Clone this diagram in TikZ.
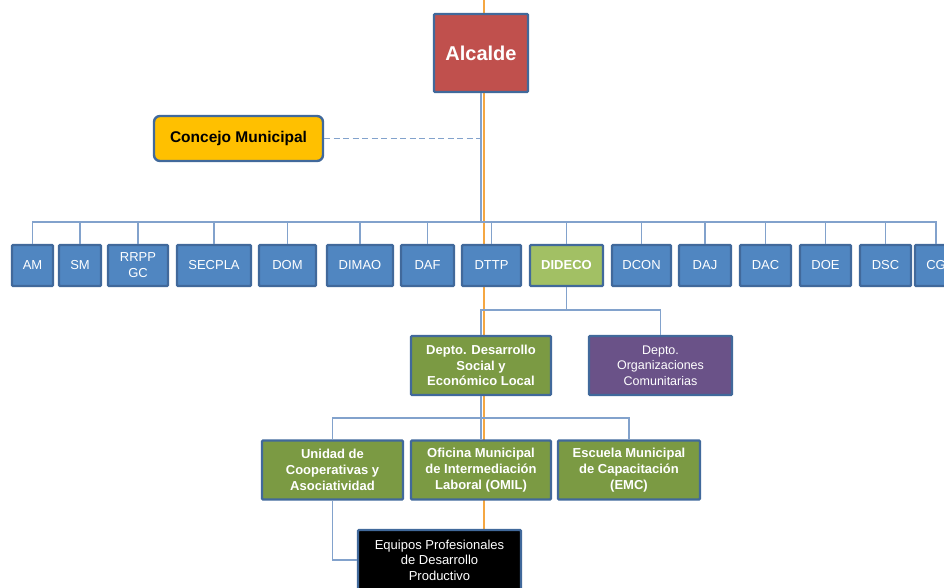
\documentclass[tikz,border=0pt]{standalone}
\usepackage{fontspec}
\setmainfont{Liberation Sans}
\definecolor{boxblue}{HTML}{5086C1}
\definecolor{boxline}{HTML}{41699B}
\definecolor{conline}{HTML}{82A2CC}
\definecolor{orangeline}{HTML}{F5A742}
\definecolor{alcred}{HTML}{C0504D}
\definecolor{conyellow}{HTML}{FFC000}
\definecolor{lightgreen}{HTML}{A2C064}
\definecolor{olive}{HTML}{7B9A43}
\definecolor{purplebox}{HTML}{6A5288}
\begin{document}
\begin{tikzpicture}[x=1pt,y=-1pt,
  box/.style={draw=boxline, line width=2.4pt, rounded corners=1pt, inner sep=0pt, align=center, text=white},
  rowbox/.style={box, fill=boxblue, minimum height=41pt, font=\fontsize{13}{16}\selectfont},
  subbox/.style={box, fill=olive, minimum width=140pt, minimum height=59pt, font=\fontsize{13}{15.7}\selectfont\bfseries},
  link/.style={draw=conline, line width=1.8pt}]
\useasboundingbox (0,0) rectangle (944,587);
\clip (0,0) rectangle (944,587);
% orange guide line (behind everything)
\coordinate (otop) at (484,0);
\coordinate (obot) at (484,587);
\draw[orangeline, line width=1.6pt] (otop) -- (obot);
% coordinates of buses
\coordinate (bus) at (481,222);
\coordinate (b2) at (566.5,310);
\coordinate (b3) at (481,418);
\node[box, fill=alcred, minimum width=94pt, minimum height=78pt, font=\fontsize{20}{24}\selectfont\bfseries] (alc) at (481,53) {Alcalde};
\node[box, fill=conyellow, text=black, rounded corners=6pt, minimum width=169pt, minimum height=45pt, font=\fontsize{15.5}{18}\selectfont\bfseries] (con) at (238.5,138.5) {Concejo Municipal};
\node[rowbox, minimum width=41pt] (am) at (32.5,265.5) {AM};
\node[rowbox, minimum width=42pt] (sm) at (80,265.5) {SM};
\node[rowbox, minimum width=60pt] (rrpp) at (138,265.5) {RRPP\\GC};
\node[rowbox, minimum width=74pt] (secpla) at (214,265.5) {SECPLA};
\node[rowbox, minimum width=57pt] (dom) at (287.5,265.5) {DOM};
\node[rowbox, minimum width=66pt] (dimao) at (360,265.5) {DIMAO};
\node[rowbox, minimum width=53pt] (daf) at (427.5,265.5) {DAF};
\node[rowbox, minimum width=59pt] (dttp) at (491.5,265.5) {DTTP};
\node[rowbox, fill=lightgreen, minimum width=73pt, font=\fontsize{13}{16}\selectfont\bfseries] (dideco) at (566.5,265.5) {DIDECO};
\node[rowbox, minimum width=59pt] (dcon) at (641.5,265.5) {DCON};
\node[rowbox, minimum width=52pt] (daj) at (705,265.5) {DAJ};
\node[rowbox, minimum width=51pt] (dac) at (765.5,265.5) {DAC};
\node[rowbox, minimum width=51pt] (doe) at (825.5,265.5) {DOE};
\node[rowbox, minimum width=51pt] (dsc) at (885.5,265.5) {DSC};
\node[rowbox, minimum width=42pt] (cg) at (936,265.5) {CG};
\node[subbox] (dsel) at (481,365.5) {Depto. Desarrollo\\Social y\\Económico Local};
\node[box, fill=purplebox, minimum width=143pt, minimum height=59pt, font=\fontsize{12.5}{15.5}\selectfont] (dorg) at (660.5,365.5) {Depto.\\Organizaciones\\Comunitarias};
\node[subbox, minimum width=141pt] (uni) at (332.5,470) {Unidad de\\Cooperativas y\\Asociatividad};
\node[subbox] (omil) at (481,470) {Oficina Municipal\\de Intermediación\\Laboral (OMIL)};
\node[subbox, minimum width=142pt] (esc) at (629,470) {Escuela Municipal\\de Capacitación\\(EMC)};
\node[box, fill=black, minimum width=163pt, minimum height=60pt, font=\fontsize{13}{15.5}\selectfont] (equ) at (439.5,560) {Equipos Profesionales\\de Desarrollo\\Productivo};
% connectors
\draw[link] (alc.south) -- (bus);
\draw[link, dash pattern=on 6pt off 3.5pt] (con.east) -- (con.east -| alc.south);
\foreach \n in {am,sm,rrpp,secpla,dom,dimao,daf,dttp,dideco,dcon,daj,dac,doe,dsc,cg}
  \draw[link] (bus) -| (\n.north);
\draw[link] (dideco.south) -- (b2);
\draw[link] (b2) -| (dsel.north);
\draw[link] (b2) -| (dorg.north);
\draw[link] (dsel.south) -- (b3);
\draw[link] (b3) -| (uni.north);
\draw[link] (b3) -| (omil.north);
\draw[link] (b3) -| (esc.north);
\draw[link] (uni.south) |- (equ.west);
\end{tikzpicture}
\end{document}
